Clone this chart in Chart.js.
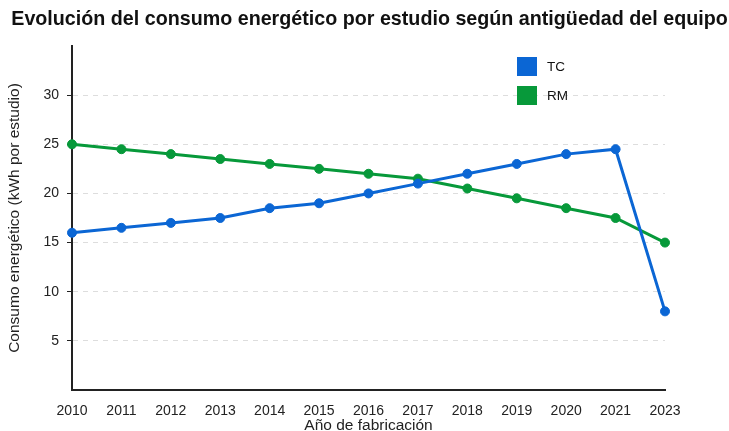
<!DOCTYPE html>
<html>
<head>
<meta charset="utf-8">
<script src="https://cdn.jsdelivr.net/npm/chart.js@4"></script>
<style>
    html, body { margin: 0; padding: 0; background: #fff; }
    #wrap { width: 729px; height: 431px; position: relative; }
</style>
</head>
<body>
<div id="wrap"><canvas id="myChart"></canvas></div>
<script>
// データ
const years = ["2010", "2011", "2012", "2013", "2014", "2015", "2016", "2017", "2018", "2019", "2020", "2021", "2023"];
const tcValues = [16, 16.5, 17, 17.5, 18.5, 19, 20, 21, 22, 23, 24, 24.5, 8];
const rmValues = [25, 24.5, 24, 23.5, 23, 22.5, 22, 21.5, 20.5, 19.5, 18.5, 17.5, 15];
const yTicks = [5, 10, 15, 20, 25, 30];
const chartTitle = "Evolución del consumo energético por estudio según antigüedad del equipo";

const BLUE = "#0b66d4";
const GREEN = "#07993a";
const FONT = "'Liberation Sans', Arial, sans-serif";

// タイトルと凡例(グラフ内の右上)
const titleAndLegend = {
    id: "titleAndLegend",
    afterDraw: (chart) => {
        const c = chart.ctx;
        c.save();
        // タイトル
        c.fillStyle = "#111";
        c.font = "bold 19.7px " + FONT;
        c.textAlign = "center";
        c.textBaseline = "alphabetic";
        c.fillText(chartTitle, chart.width / 2 + 5, 25);
        // 凡例
        c.textAlign = "left";
        chart.data.datasets.forEach((ds, i) => {
            const x = 517;
            const y = 57 + i * 29;
            c.fillStyle = ds.borderColor;
            c.fillRect(x, y, 20, 19);
            c.fillStyle = "#111";
            c.font = "13.5px " + FONT;
            c.textBaseline = "middle";
            c.fillText(ds.label, x + 30, y + 10);
        });
        c.restore();
    }
};

const ctx = document.getElementById("myChart");
new Chart(ctx, {
    type: "line",
    data: {
        labels: years,
        datasets: [
            {
                label: "TC",
                data: tcValues,
                borderColor: BLUE,
                backgroundColor: BLUE,
                borderWidth: 3,
                pointRadius: 4.5,
                pointBorderWidth: 1,
                pointHoverRadius: 4.5,
            },
            {
                label: "RM",
                data: rmValues,
                borderColor: GREEN,
                backgroundColor: GREEN,
                borderWidth: 3,
                pointRadius: 4.5,
                pointBorderWidth: 1,
                pointHoverRadius: 4.5,
            },
        ],
    },
    options: {
        responsive: true,
        maintainAspectRatio: false,
        animation: false,
        layout: { padding: { top: 46, right: 64, bottom: 0, left: 0 } },
        plugins: {
            legend: { display: false },
            tooltip: { enabled: false },
            title: { display: false },
        },
        scales: {
            x: {
                offset: false,
                afterFit: (axis) => { axis.height = 41; },
                grid: { display: false, drawTicks: true, tickLength: 5, tickColor: "#222" },
                border: { color: "#222", width: 2 },
                ticks: { color: "#222", font: { family: FONT, size: 14 }, padding: 8, maxRotation: 0, autoSkip: false },
                title: {
                    display: true,
                    text: "Año de fabricación",
                    color: "#222",
                    font: { family: FONT, size: 15.5, lineHeight: 1.2 },
                    padding: { top: 0, bottom: -4 },
                },
            },
            y: {
                min: 0,
                max: 35,
                afterFit: (axis) => { axis.width = 72; },
                afterBuildTicks: (axis) => {
                    axis.ticks = yTicks.map((v) => ({ value: v }));
                },
                grid: {
                    color: "#dddddd",
                    tickColor: "#222",
                    tickLength: 5,
                },
                border: { color: "#222", width: 2, dash: [5, 5] },
                ticks: { color: "#222", font: { family: FONT, size: 14 }, padding: 8 },
                title: {
                    display: true,
                    text: "Consumo energético (kWh por estudio)",
                    color: "#222",
                    font: { family: FONT, size: 15.5, lineHeight: 1.2 },
                    padding: { top: 5, bottom: 0 },
                },
            },
        },
    },
    plugins: [titleAndLegend],
});
</script>
</body>
</html>
